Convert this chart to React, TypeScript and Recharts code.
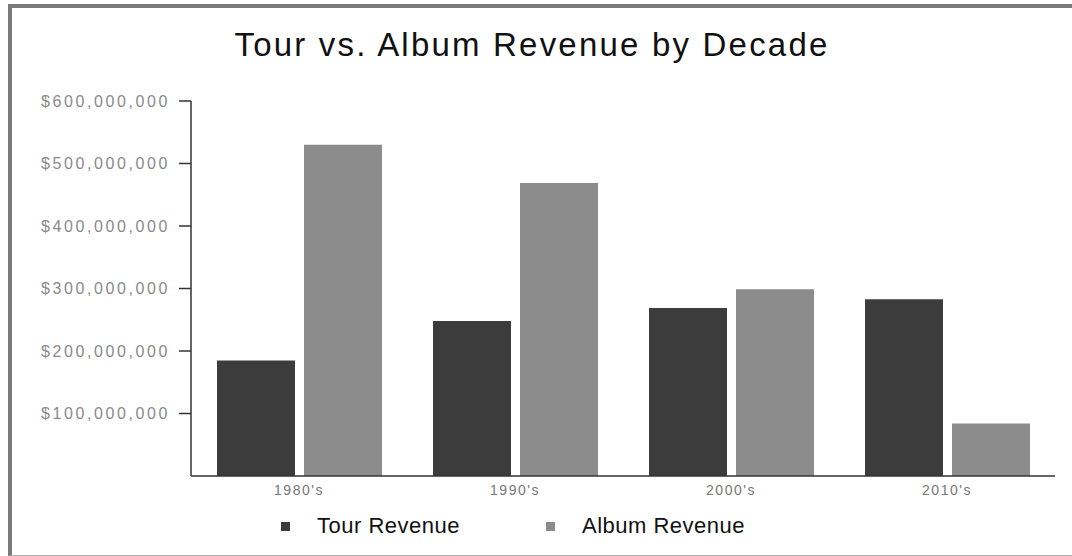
import { Bar, BarChart, XAxis, YAxis } from "recharts";

const decades = ["1980's", "1990's", "2000's", "2010's"];
const tourRevenue = [185000000, 248000000, 269000000, 283000000];
const albumRevenue = [530000000, 469000000, 299000000, 84000000];
const yTicks = [100000000, 200000000, 300000000, 400000000, 500000000, 600000000];
const seriesNames = ["Tour Revenue", "Album Revenue"];
const seriesColors = ["#3c3c3c", "#8c8c8c"];

const font = "'Liberation Sans', Arial, Helvetica, sans-serif";

const data = decades.map((d, i) => ({ decade: d, tour: tourRevenue[i], album: albumRevenue[i] }));

const money = (v: number) => "$" + v.toLocaleString("en-US");

export default function App() {
  return (
    <div
      style={{
        position: "absolute",
        left: 8,
        top: 4,
        width: 1064,
        height: 547,
        borderTop: "4px solid #7a7a7a",
        borderLeft: "4px solid #7a7a7a",
        borderBottom: "1px solid #b0b0b0",
        background: "#fff",
      }}
    >
      <div
        style={{
          position: "absolute",
          left: 0,
          width: 1040,
          top: 19,
          textAlign: "center",
          fontFamily: font,
          fontSize: 33,
          letterSpacing: 2.2,
          color: "#111",
          lineHeight: "36px",
        }}
      >
        Tour vs. Album Revenue by Decade
      </div>
      <BarChart
        width={1060}
        height={547}
        data={data}
        margin={{ top: 93, right: 17, bottom: 49, left: 29 }}
        barCategoryGap={26}
        barGap={9}
      >
        <XAxis
          dataKey="decade"
          height={30}
          tickLine={false}
          axisLine={{ stroke: "#333", strokeWidth: 1.5 }}
          tick={{ fontSize: 14, fill: "#777", fontFamily: font, letterSpacing: 1.5 }}
          tickMargin={3}
        />
        <YAxis
          width={150}
          domain={[0, 600000000]}
          ticks={yTicks}
          tickFormatter={money}
          axisLine={{ stroke: "#333", strokeWidth: 1.5 }}
          tickLine={{ stroke: "#333", strokeWidth: 1.5 }}
          tickSize={12}
          tickMargin={9}
          tick={{ fontSize: 16, fill: "#8a8a8a", fontFamily: font, letterSpacing: 2.6 }}
          interval={0}
        />
        <Bar dataKey="tour" name={seriesNames[0]} fill={seriesColors[0]} isAnimationActive={false} />
        <Bar dataKey="album" name={seriesNames[1]} fill={seriesColors[1]} isAnimationActive={false} />
      </BarChart>
      <div
        style={{
          position: "absolute",
          left: 269,
          top: 505,
          display: "flex",
          alignItems: "center",
          fontFamily: font,
          fontSize: 22,
          letterSpacing: 0.5,
          color: "#111",
        }}
      >
        {seriesNames.map((name, i) => (
          <div key={name} style={{ display: "flex", alignItems: "center", marginRight: i === 0 ? 86 : 0 }}>
            <span style={{ width: 9, height: 9, background: seriesColors[i], marginRight: 27, display: "inline-block" }} />
            <span>{name}</span>
          </div>
        ))}
      </div>
    </div>
  );
}
